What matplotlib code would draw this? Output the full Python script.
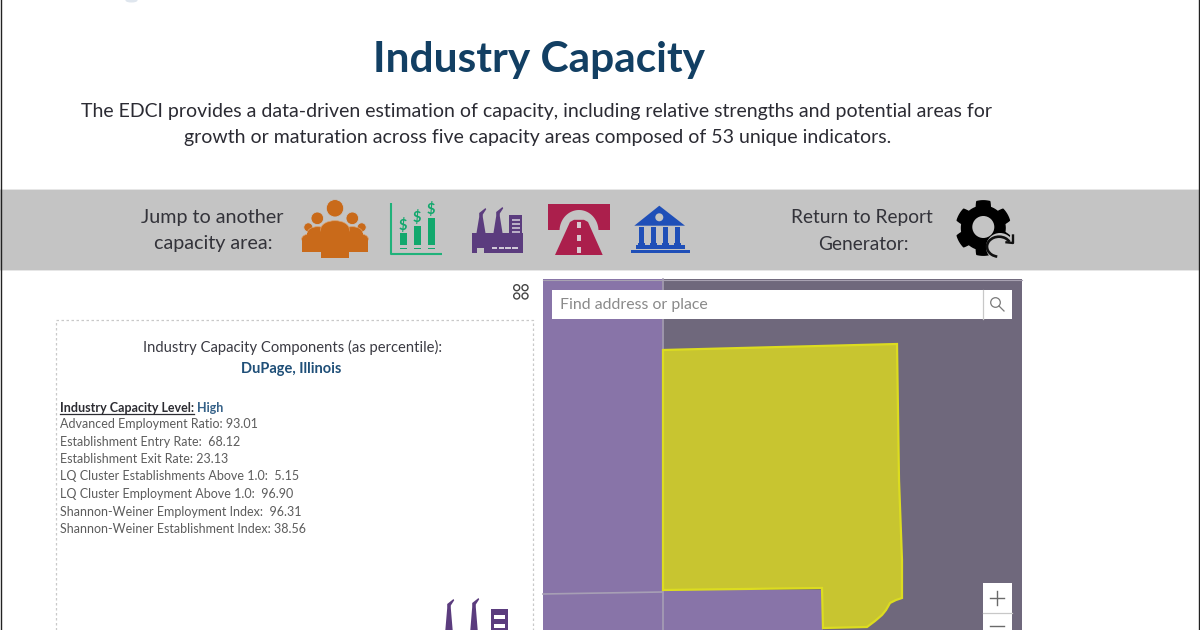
import matplotlib
matplotlib.use('Agg')
import matplotlib.pyplot as plt
from matplotlib.patches import Rectangle, Polygon, Circle, Ellipse, Arc
import numpy as np

plt.rcParams['font.family'] = ['Lato', 'DejaVu Sans']

# Report text
titulo = "Industry Capacity"
intro = ["The EDCI provides a data-driven estimation of capacity, including relative strengths and potential areas for",
         "growth or maturation across five capacity areas composed of 53 unique indicators."]
jump_label = ["Jump to another", "capacity area:"]
return_label = ["Return to Report", "Generator:"]
panel_title = "Industry Capacity Components (as percentile):"
region = "DuPage, Illinois"
nivel_label = "Industry Capacity Level:"
nivel = "High"
componentes = ["Advanced Employment Ratio: ", "Establishment Entry Rate:  ", "Establishment Exit Rate: ",
               "LQ Cluster Establishments Above 1.0:  ", "LQ Cluster Employment Above 1.0:  ",
               "Shannon-Weiner Employment Index:  ", "Shannon-Weiner Establishment Index: "]
valores = ["93.01", "68.12", "23.13", "5.15", "96.90", "96.31", "38.56"]

# Map outline (county shape)
county_x = [663, 897, 899, 902, 902, 896, 890, 886, 882, 875, 867, 823, 822, 663]
county_y = [350, 344, 480, 560, 598, 600, 603, 610, 615, 621, 627, 628, 588, 590]

fig = plt.figure(figsize=(12, 6.3), dpi=100)
ax = fig.add_axes([0, 0, 1, 1])
ax.set_xlim(0, 1200)
ax.set_ylim(630, 0)
ax.axis('off')

GRIS = '#c4c4c4'


def caja(x, y, w, h, color, z=2):
    ax.add_patch(Rectangle((x, y), w, h, fc=color, ec='none', zorder=z))


def forma(pts, color, z=3):
    ax.add_patch(Polygon(pts, closed=True, fc=color, ec='none', zorder=z))


def persona(cx, cy, r, x0, x1, top, bottom, color, z=3):
    # cabeza y cuerpo redondeado
    w = x1 - x0
    ax.add_patch(Circle((cx, cy), r, fc=color, ec=GRIS, lw=0.6, zorder=z))
    ax.add_patch(Ellipse(((x0 + x1) / 2, top + w * 0.3), w, w * 0.6, fc=color, ec='#dca06a', lw=0.5, zorder=z))
    caja(x0, top + w * 0.3, w, bottom - top - w * 0.3, color, z)


def chimenea(x, base, top, w, color):
    forma([(x - w / 2, base), (x - 1.8, top + 9), (x - 1.8, top + 5), (x + 4.5, top), (x + 5.2, top + 1.3),
           (x + 1.8, top + 6.5), (x + 1.8, top + 9), (x + w / 2, base)], color)


# page frame lines and grey band
ax.plot([0.6, 0.6], [0, 630], color='#222222', lw=1, zorder=8)
ax.plot([1199.4, 1199.4], [0, 630], color='#222222', lw=1, zorder=8)
caja(0, 190, 1200, 79.5, GRIS, 1)
caja(0, 189, 1200, 1, '#e6e6e6', 1)
caja(0, 269.5, 1200, 1, '#e6e6e6', 1)
ax.add_patch(Ellipse((131.5, 0.5), 12, 4, fc='#dfe6ee', ec='none', zorder=1))

# header
ax.text(539, 60, titulo, fontsize=30.5, fontweight='bold', color='#123f63', ha='center', va='center')
ax.text(536.5, 111.5, intro[0], fontsize=14.06, color='#2b2b33', ha='center', va='center')
ax.text(538, 138, intro[1], fontsize=14.06, color='#2b2b33', ha='center', va='center')

# band text
ax.text(212, 217.5, jump_label[0], fontsize=14.2, color='#33333a', ha='center', va='center')
ax.text(213, 244, jump_label[1], fontsize=14.2, color='#33333a', ha='center', va='center')
ax.text(861.5, 217.5, return_label[0], fontsize=13.8, color='#33333a', ha='center', va='center')
ax.text(863, 244, return_label[1], fontsize=13.8, color='#33333a', ha='center', va='center')

# icon: people
naranja = '#c96a1a'
persona(308.3, 227.3, 4.5, 301.7, 318, 234, 252.3, naranja, 3)
persona(361.7, 227.3, 4.5, 352, 368.3, 234, 252.3, naranja, 3)
persona(317.3, 218.3, 6.3, 307.3, 328, 226.7, 252.3, naranja, 4)
persona(352.3, 218.3, 6.3, 342, 362.7, 226.7, 252.3, naranja, 4)
persona(335, 208.3, 8.7, 320.7, 349.3, 220.7, 258, naranja, 5)

# icon: chart
verde = '#1fb27a'
ax.plot([391, 391, 442], [203, 254, 254], color=verde, lw=1.5, zorder=3, solid_capstyle='butt')
for bx, btop, dy in [(403.3, 233.3, 225), (417.3, 226, 218), (431, 218.3, 210)]:
    caja(bx - 3.5, btop, 7, 245 - btop, '#12a86d')
    caja(bx - 3.5, 247.5, 7, 1.5, '#12a86d')
    ax.text(bx, dy, "$", fontsize=10.5, fontweight='bold', color='#12a86d', ha='center', va='center', zorder=4,
            parse_math=False)

# icon: factory
morado = '#5b3c7e'
forma([(472.3, 253.3), (472.3, 233), (523.3, 233), (523.3, 253.3)], morado)
chimenea(481, 236, 208, 10, morado)
chimenea(498, 236, 207, 10, morado)
caja(509.3, 215, 12.4, 20, morado)
for yy in (219, 223, 227, 231):
    caja(511.5, yy, 8, 1.5, '#b9aec6', 4)
for xx in (491.7, 498.5, 505.3, 512):
    caja(xx, 246.5, 5.5, 2, '#d0c9d8', 4)
caja(477, 248, 6.5, 5.5, GRIS, 4)

# icon: road
rojo = '#ab1f4c'
forma([(548.3, 204), (610, 204), (610, 230), (548.3, 230)], rojo)
t_arco = np.linspace(np.pi, 2 * np.pi, 40)
forma(list(zip(579 + 19.5 * np.cos(t_arco), 231 + 21 * np.sin(t_arco))), GRIS, 4)
forma([(555, 255), (570, 222), (574, 219.8), (584, 219.8), (588, 222), (602.7, 255)], rojo, 5)
for yy in (221.7, 235, 247):
    caja(577, yy, 4, 6.3, '#d8c8d0', 6)

# icon: bank
azul = '#1f4fb8'
forma([(659.3, 205.7), (685, 225.7), (634.3, 225.7)], azul)
ax.add_patch(Circle((659.3, 217.3), 4, fc=GRIS, ec='none', zorder=4))
for xx in (641.7, 653.3, 665.7, 677.7):
    caja(xx - 2.5, 227, 5, 18, azul)
    caja(xx - 3.5, 242.5, 7, 3, azul)
caja(636, 245, 49, 4.3, azul)
caja(630.7, 250, 59.3, 3.3, azul)

# icon: gear with arrow
t = np.linspace(0, 2 * np.pi, 721)
rad = 24.5 + 2.7 * np.clip(4 * np.cos(6 * t) + 0.5, -1, 1)
ax.fill(983.3 + rad * np.sin(t), 228 + rad * np.cos(t), color='black', zorder=3)
ax.add_patch(Circle((983.3, 227), 11, fc=GRIS, ec='none', zorder=4))
ax.add_patch(Circle((1000, 247), 14, fc=GRIS, ec='none', zorder=4))
ax.add_patch(Arc((999, 246.7), 24, 20, theta1=100, theta2=335, color='#111111', lw=1.9, zorder=5))
ax.plot([1013, 1013, 1006.5], [235.5, 243, 242.3], color='#111111', lw=1.7, zorder=5)

# layout icon above panel
for cx in (516.7, 525):
    for cy in (287.7, 296):
        ax.add_patch(Circle((cx, cy), 3, fc='white', ec='#444444', lw=1, zorder=3))

# dashed panel
ax.plot([55.5, 55.5, 532.5, 532.5], [630, 319.5, 319.5, 630], color='#c9c9c9', lw=0.9, ls=(0, (2, 2)), zorder=2)
ax.text(292.5, 347, panel_title, fontsize=10.6, color='#3a3a42', ha='center', va='center')
ax.text(291, 369, region, fontsize=10.5, fontweight='bold', color='#1f4f78', ha='center', va='center')

# component list
y_pos = 407.5
tx = ax.text(60, y_pos, nivel_label, fontsize=9.0, fontweight='bold', color='#2c2c32', ha='left', va='center')
fig.canvas.draw()
bb = tx.get_window_extent().transformed(ax.transData.inverted())
ax.plot([60, bb.x1], [y_pos + 6, y_pos + 6], color='#2c2c32', lw=0.9, zorder=3)
ax.text(bb.x1 + 3, y_pos, nivel, fontsize=9.0, fontweight='bold', color='#356188', ha='left', va='center')
for i, (nombre, valor) in enumerate(zip(componentes, valores)):
    ax.text(60, 424 + i * 17.5, nombre + valor, fontsize=9.0, color='#5c5c5c', ha='left', va='center')

# panel factory icon (cut by page bottom)
chimenea(449, 640, 599, 9, morado)
chimenea(474, 640, 598, 9, morado)
caja(490.7, 609.3, 17.6, 21, morado)
for yy in (615, 624):
    caja(494, yy, 11, 3.7, 'white', 4)

# map
caja(543, 279, 479, 351, '#6f687c', 1)
caja(543, 279, 119, 351, '#8874a8', 2)
caja(662, 590, 161, 40, '#8874a8', 2)
ax.plot([543, 1022], [279.5, 279.5], color='#a8a2b2', lw=0.8, zorder=3)
ax.plot([662.5, 662.5], [279, 630], color='#a79fb5', lw=1.2, zorder=3)
ax.plot([543, 662], [594, 592], color='#a79fb5', lw=1.2, zorder=3)
ax.add_patch(Polygon(list(zip(county_x, county_y)), closed=True, fc='#c8c530', ec='#dcdc20', lw=1.6, zorder=4))

# map search box
caja(552, 290, 460, 29, 'white', 6)
ax.plot([982.5, 982.5], [290, 319], color='#c8c8c8', lw=0.9, zorder=7)
ax.text(560, 305, "Find address or place", fontsize=11.4, color='#8a8a8a', ha='left', va='center', zorder=7)
ax.add_patch(Circle((995.5, 302.5), 4.8, fc='none', ec='#7a7a7a', lw=0.9, zorder=7))
ax.plot([999, 1004], [306, 311], color='#7a7a7a', lw=0.9, zorder=7)

# map zoom buttons
caja(983, 583, 29, 47, 'white', 6)
ax.plot([983, 1012], [612.5, 612.5], color='#c8c8c8', lw=0.9, zorder=7)
ax.plot([990, 1004], [597.5, 597.5], color='#6a6a6a', lw=1, zorder=7)
ax.plot([997, 997], [590.5, 604.5], color='#6a6a6a', lw=1, zorder=7)
ax.plot([990, 1004], [626, 626], color='#6a6a6a', lw=1, zorder=7)

fig.savefig('out.png', dpi=100)
